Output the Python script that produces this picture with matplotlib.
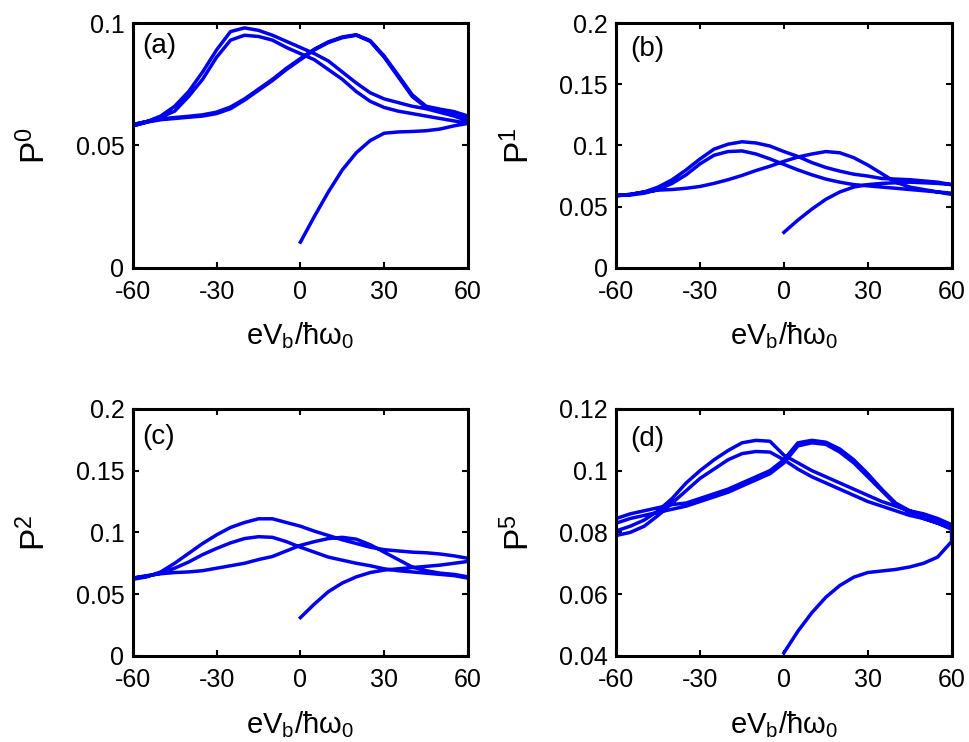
import numpy as np
import matplotlib.pyplot as plt
from matplotlib.ticker import FormatStrFormatter

plt.rcParams['font.family'] = ['Liberation Sans', 'DejaVu Sans']
plt.rcParams['mathtext.default'] = 'regular'
plt.rcParams['axes.unicode_minus'] = False

# bias grid of the sweeps (step 5)
x_full = [-60, -55, -50, -45, -40, -35, -30, -25, -20, -15, -10, -5, 0,
          5, 10, 15, 20, 25, 30, 35, 40, 45, 50, 55, 60]
x_init = [0, 5, 10, 15, 20, 25, 30, 35, 40, 45, 50, 55, 60]

# (a) P^0 ; down sweeps listed from +60 to -60, up sweeps from -60 to +60
a_init = [0.0105, 0.021, 0.031, 0.040, 0.047, 0.052, 0.055, 0.0555, 0.0557,
          0.056, 0.0567, 0.058, 0.059]
a_down1 = [0.060, 0.062, 0.0635, 0.065, 0.066, 0.0675, 0.069, 0.0715, 0.0755,
           0.080, 0.0845, 0.0875, 0.090, 0.0925, 0.095, 0.097, 0.098, 0.0965,
           0.089, 0.080, 0.072, 0.066, 0.062, 0.0597, 0.0585]
a_up1 = [0.058, 0.0595, 0.0605, 0.061, 0.0615, 0.062, 0.063, 0.065, 0.0685,
         0.0725, 0.0765, 0.081, 0.085, 0.089, 0.092, 0.094, 0.095, 0.0925,
         0.086, 0.078, 0.070, 0.0655, 0.0645, 0.0635, 0.0615]
a_down2 = [0.059, 0.060, 0.061, 0.062, 0.063, 0.064, 0.0655, 0.068, 0.072,
           0.077, 0.081, 0.085, 0.0875, 0.090, 0.093, 0.0945, 0.095, 0.093,
           0.086, 0.077, 0.070, 0.064, 0.0615, 0.0595, 0.058]
a_up2 = [0.0585, 0.0598, 0.0608, 0.0614, 0.0619, 0.0625, 0.0636, 0.0657, 0.069,
         0.073, 0.077, 0.0815, 0.0855, 0.0893, 0.0923, 0.0943, 0.0952, 0.0928,
         0.0865, 0.0787, 0.0707, 0.066, 0.0648, 0.0638, 0.062]

# (b) P^1
b_init = [0.029, 0.039, 0.048, 0.056, 0.062, 0.066, 0.068, 0.069, 0.0695,
          0.070, 0.0695, 0.069, 0.068]
b_down1 = [0.068, 0.070, 0.071, 0.072, 0.0725, 0.073, 0.075, 0.0765, 0.079,
           0.082, 0.086, 0.091, 0.095, 0.0995, 0.102, 0.103, 0.101, 0.097,
           0.089, 0.080, 0.072, 0.066, 0.062, 0.060, 0.059]
b_up1 = [0.059, 0.060, 0.062, 0.0635, 0.064, 0.065, 0.0665, 0.069, 0.072,
         0.0755, 0.0795, 0.083, 0.087, 0.0905, 0.093, 0.095, 0.094, 0.090,
         0.084, 0.077, 0.070, 0.066, 0.064, 0.062, 0.060]
b_down2 = [0.061, 0.062, 0.063, 0.064, 0.065, 0.066, 0.067, 0.068, 0.070,
           0.0725, 0.076, 0.080, 0.0845, 0.089, 0.093, 0.0955, 0.095, 0.092,
           0.085, 0.076, 0.069, 0.064, 0.061, 0.0595, 0.059]

# (c) P^2
c_init = [0.031, 0.042, 0.052, 0.059, 0.064, 0.0675, 0.0695, 0.0705, 0.0715,
          0.0725, 0.0735, 0.075, 0.0765]
c_down1 = [0.079, 0.081, 0.0825, 0.0835, 0.084, 0.085, 0.086, 0.088, 0.091,
           0.094, 0.0975, 0.101, 0.105, 0.108, 0.111, 0.111, 0.108, 0.104,
           0.098, 0.091, 0.083, 0.075, 0.068, 0.064, 0.062]
c_up1 = [0.063, 0.065, 0.0665, 0.0675, 0.068, 0.069, 0.071, 0.073, 0.075,
         0.078, 0.0805, 0.085, 0.0895, 0.0925, 0.095, 0.096, 0.0945, 0.090,
         0.084, 0.078, 0.072, 0.069, 0.067, 0.066, 0.064]
c_down2 = [0.063, 0.065, 0.066, 0.067, 0.068, 0.069, 0.0705, 0.073, 0.075,
           0.0775, 0.080, 0.084, 0.088, 0.0925, 0.096, 0.0965, 0.095, 0.0915,
           0.087, 0.082, 0.076, 0.071, 0.067, 0.0645, 0.063]

# (d) P^5
d_init = [0.041, 0.048, 0.054, 0.059, 0.0628, 0.0655, 0.067, 0.0675, 0.068,
          0.0688, 0.070, 0.072, 0.077]
d_down1 = [0.0825, 0.0845, 0.086, 0.087, 0.0885, 0.090, 0.092, 0.094, 0.096,
           0.098, 0.100, 0.1025, 0.105, 0.1095, 0.1098, 0.109, 0.1065, 0.1035,
           0.100, 0.096, 0.091, 0.087, 0.084, 0.082, 0.0805]
d_up1 = [0.0845, 0.086, 0.087, 0.088, 0.089, 0.0895, 0.091, 0.0925, 0.094,
         0.096, 0.098, 0.100, 0.1035, 0.109, 0.1098, 0.1092, 0.107, 0.1035,
         0.099, 0.094, 0.0895, 0.087, 0.085, 0.0835, 0.082]
d_down2 = [0.081, 0.083, 0.0845, 0.0855, 0.087, 0.0885, 0.090, 0.092, 0.094,
           0.096, 0.098, 0.1005, 0.1035, 0.106, 0.1062, 0.1055, 0.1035, 0.1005,
           0.0975, 0.0935, 0.0895, 0.0855, 0.082, 0.080, 0.079]
d_up2 = [0.083, 0.0845, 0.0855, 0.0865, 0.0875, 0.0885, 0.090, 0.0915, 0.093,
         0.095, 0.097, 0.099, 0.1025, 0.108, 0.109, 0.1085, 0.106, 0.1025,
         0.098, 0.0935, 0.089, 0.0865, 0.0845, 0.083, 0.0815]

panels = [
    ('(a)', '$P^0$', a_init, [a_down1, a_down2], [a_up1, a_up2],
     (0, 0.1), [0, 0.05, 0.1]),
    ('(b)', '$P^1$', b_init, [b_down1, b_down2], [b_up1],
     (0, 0.2), [0, 0.05, 0.1, 0.15, 0.2]),
    ('(c)', '$P^2$', c_init, [c_down1, c_down2], [c_up1],
     (0, 0.2), [0, 0.05, 0.1, 0.15, 0.2]),
    ('(d)', '$P^5$', d_init, [d_down1, d_down2], [d_up1, d_up2],
     (0.04, 0.12), [0.04, 0.06, 0.08, 0.1, 0.12]),
]
label_pos = [(0.028, 0.905), (0.042, 0.894), (0.028, 0.887), (0.042, 0.878)]

fig = plt.figure(figsize=(9.69, 7.42), dpi=100)
rects = [[0.137, 0.639, 0.346, 0.330], [0.636, 0.639, 0.346, 0.330],
         [0.137, 0.116, 0.346, 0.333], [0.636, 0.116, 0.346, 0.333]]

x_back = x_full[::-1]
for i, (tag, ylab, init, downs, ups, ylim, yt) in enumerate(panels):
    ax = fig.add_axes(rects[i])
    # sweep order: 0 -> 60, then 60 -> -60, -60 -> 60, ...
    xs = list(x_init)
    ys = list(init)
    for k in range(len(downs)):
        xs += x_back
        ys += downs[k]
        if k < len(ups):
            xs += x_full
            ys += ups[k]
    ax.plot(xs, ys, color='#0000f0', lw=2.5, solid_joinstyle='round')
    ax.set_xlim(-60, 60)
    ax.set_ylim(*ylim)
    ax.set_xticks([-60, -30, 0, 30, 60])
    ax.set_yticks(yt)
    ax.yaxis.set_major_formatter(FormatStrFormatter('%g'))
    ax.tick_params(direction='in', top=True, right=True, length=4, width=1.5,
                   labelsize=18)
    ax.tick_params(axis='x', pad=9)
    ax.tick_params(axis='y', pad=6)
    for s in ax.spines.values():
        s.set_linewidth(2.2)
    ax.set_xlabel('$eV_b/ħω_0$', fontsize=21)
    ax.set_ylabel(ylab, fontsize=24)
    ax.xaxis.set_label_coords(0.5, -0.215)
    ax.yaxis.set_label_coords(-0.24, 0.5)
    ax.text(label_pos[i][0], label_pos[i][1], tag, transform=ax.transAxes,
            fontsize=20, va='center', ha='left')

fig.savefig('out.png', dpi=100)
